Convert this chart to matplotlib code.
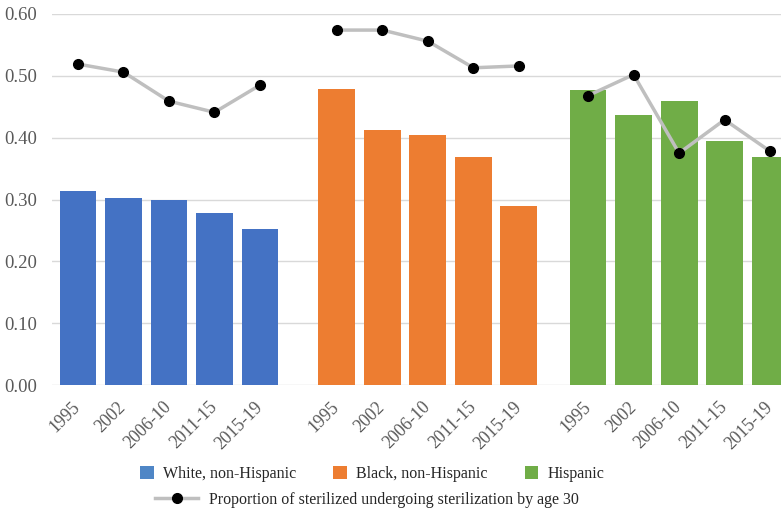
import numpy as np
import matplotlib
matplotlib.use("Agg")
import matplotlib.pyplot as plt
from matplotlib.patches import Patch
from matplotlib.lines import Line2D

# ---- data ----
periods = ["1995", "2002", "2006-10", "2011-15", "2015-19"]
groups = ["White, non-Hispanic", "Black, non-Hispanic", "Hispanic"]

white_bars = [0.313, 0.302, 0.299, 0.278, 0.253]
black_bars = [0.479, 0.413, 0.405, 0.369, 0.290]
hisp_bars = [0.477, 0.437, 0.460, 0.395, 0.369]

white_line = [0.519, 0.506, 0.459, 0.441, 0.485]
black_line = [0.574, 0.574, 0.556, 0.513, 0.516]
hisp_line = [0.468, 0.502, 0.375, 0.429, 0.378]

line_label = "Proportion of sterilized undergoing sterilization by age 30"

bar_colors = ["#4472C4", "#ED7D31", "#70AD47"]
legend_colors = ["#4F86C6", "#ED7D31", "#70AD47"]
line_color = "#BFBFBF"
text_color = "#595959"

plt.rcParams["font.family"] = ["Liberation Serif", "DejaVu Serif"]

fig = plt.figure(figsize=(7.81, 5.19), dpi=100)
ax = fig.add_axes([52 / 781, 1 - 385 / 519, 1 - 52 / 781, (385 - 14) / 519])

group_start = [0.0, 5.69, 11.21]
bars = [white_bars, black_bars, hisp_bars]
lines = [white_line, black_line, hisp_line]

xticks, xlabels = [], []
for g in range(3):
    x = np.arange(len(periods)) + group_start[g]
    ax.bar(x, bars[g], width=0.81, color=bar_colors[g], zorder=2)
    ax.plot(x, lines[g], color=line_color, lw=2.5, marker="o",
            markersize=7, markerfacecolor="black", markeredgecolor="black",
            zorder=3, clip_on=False)
    xticks.extend(x)
    xlabels.extend(periods)

ax.set_xlim(-0.571, 15.45)
ax.set_ylim(0, 0.6)
ax.set_yticks(np.arange(0, 0.61, 0.1))
ax.set_yticklabels([f"{v:.2f}" for v in np.arange(0, 0.61, 0.1)])
ax.yaxis.grid(True, color="#D9D9D9", lw=1, zorder=0)
ax.set_axisbelow(True)
for s in ax.spines.values():
    s.set_visible(False)
ax.tick_params(axis="y", length=0, pad=11, labelsize=13.5, labelcolor=text_color)

ax.set_xticks(xticks)
ax.set_xticklabels(xlabels, rotation=45, ha="right", va="center",
                   rotation_mode="anchor")
ax.tick_params(axis="x", length=0, pad=14, labelsize=12.8, labelcolor=text_color)

# ---- legends ----
handles = [Patch(facecolor=c, edgecolor="none") for c in legend_colors]
leg1 = fig.legend(handles, groups, loc="center left",
                  bbox_to_anchor=(140 / 781, 1 - 474 / 519), ncol=3,
                  frameon=False, fontsize=11.5, borderpad=0, borderaxespad=0,
                  handlelength=0.85, handleheight=0.85, handletextpad=0.6,
                  columnspacing=2.3)
for t in leg1.get_texts():
    t.set_color("#262626")

line_handle = Line2D([], [], color=line_color, lw=2.5, marker="o",
                     markersize=7, markerfacecolor="black",
                     markeredgecolor="black")
leg2 = fig.legend([line_handle], [line_label], loc="center left",
                  bbox_to_anchor=(155 / 781, 1 - 500 / 519), frameon=False,
                  fontsize=11.5, borderpad=0, borderaxespad=0,
                  handlelength=2.7, handletextpad=0.7)
for t in leg2.get_texts():
    t.set_color("#262626")

fig.savefig("out.png", dpi=100)
